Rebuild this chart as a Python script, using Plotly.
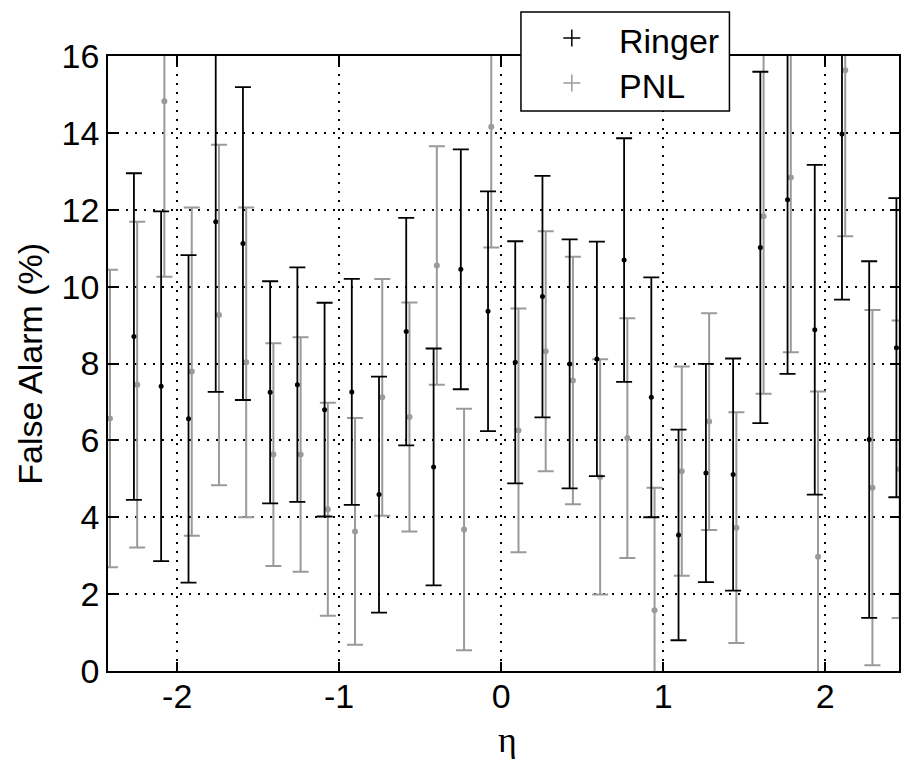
import plotly.graph_objects as go

# Pseudorapidity bin centres
eta = [-2.435, -2.267, -2.099, -1.930, -1.762, -1.594, -1.426, -1.258, -1.090, -0.922,
       -0.754, -0.586, -0.417, -0.249, -0.081, 0.087, 0.255, 0.423, 0.591, 0.759,
       0.927, 1.095, 1.264, 1.432, 1.600, 1.768, 1.936, 2.104, 2.272, 2.440]

# False alarm rate (%) and its uncertainty, Ringer discriminator
ringer = [None, 8.70, 7.41, 6.56, 11.69, 11.12, 7.25, 7.45, 6.80, 7.26,
          4.59, 8.83, 5.31, 10.45, 9.36, 8.03, 9.74, 7.99, 8.12, 10.69,
          7.12, 3.54, 5.15, 5.11, 11.02, 12.26, 8.88, 13.97, 6.02, 8.41]
ringer_err = [None, 4.25, 4.55, 4.26, 4.43, 4.07, 2.89, 3.05, 2.78, 2.94,
              3.07, 2.96, 3.08, 3.12, 3.12, 3.15, 3.14, 3.24, 3.05, 3.17,
              3.12, 2.74, 2.84, 3.02, 4.57, 4.53, 4.29, 4.31, 4.64, 3.89]

# False alarm rate (%) and its uncertainty, PNL discriminator
pnl = [6.57, 7.45, 14.82, 7.79, 9.26, 8.03, 5.63, 5.63, 4.21, 3.63,
       7.12, 6.61, 10.55, 3.68, 14.16, 6.26, 8.32, 7.56, 5.05, 6.06,
       1.58, 5.20, 6.49, 3.73, 11.83, 12.84, 2.97, 15.63, 4.77, 5.25]
pnl_err = [3.87, 4.24, 4.56, 4.27, 4.43, 4.03, 2.90, 3.05, 2.77, 2.95,
           3.08, 2.98, 3.10, 3.14, 3.14, 3.17, 3.12, 3.22, 3.06, 3.12,
           3.19, 2.72, 2.82, 3.00, 4.62, 4.55, 4.30, 4.32, 4.62, 3.87]

series_names = ["Ringer", "PNL"]

x_tickvals = [-2, -1, 0, 1, 2]
x_ticktext = ["-2", "-1", "0", "1", "2"]
y_tickvals = [0, 2, 4, 6, 8, 10, 12, 14, 16]
y_ticktext = ["0", "2", "4", "6", "8", "10", "12", "14", "16"]

BLACK = "#000000"
GRAY = "#9a9a9a"
FONT = "Liberation Sans, Arial, sans-serif"
shift = 0.02  # small horizontal shift so the two series do not overlap

# Canvas and plot-area geometry (pixels)
W, H = 901, 759
ML, MR, MT, MB = 108, 0, 56, 88
PW, PH = W - ML - MR, H - MT - MB


def px_x(px):
    return (px - ML) / PW


def px_y(py):
    return (H - MB - py) / PH


fig = go.Figure()

fig.add_trace(go.Scatter(
    x=[e + shift for e in eta], y=pnl, mode="markers", showlegend=False,
    marker=dict(color=GRAY, size=6, symbol="circle"),
    error_y=dict(type="data", array=pnl_err, visible=True,
                 color=GRAY, thickness=2, width=8),
))
fig.add_trace(go.Scatter(
    x=eta, y=ringer, mode="markers", showlegend=False,
    marker=dict(color=BLACK, size=5, symbol="circle"),
    error_y=dict(type="data", array=ringer_err, visible=True,
                 color=BLACK, thickness=1.8, width=8),
))

axis_common = dict(
    showline=True, linecolor=BLACK, linewidth=1.5, mirror="ticks",
    ticks="inside", ticklen=9, tickwidth=1.5, tickcolor=BLACK,
    showgrid=True, gridcolor=BLACK, gridwidth=1.5, griddash="2px,7px",
    zeroline=False, tickfont=dict(family=FONT, size=34, color=BLACK),
)

fig.update_xaxes(range=[-2.427, 2.456], tickmode="array",
                 tickvals=x_tickvals, ticktext=x_ticktext,
                 ticklabelstandoff=-6, **axis_common)
fig.update_yaxes(range=[0, 16], tickmode="array",
                 tickvals=y_tickvals, ticktext=y_ticktext,
                 ticklabelstandoff=0, **axis_common)

fig.add_annotation(text="False Alarm (%)", xref="paper", yref="paper",
                   x=px_x(29), y=0.5, xanchor="center", yanchor="middle",
                   textangle=-90, showarrow=False,
                   font=dict(family=FONT, size=34, color=BLACK))
fig.add_annotation(text="η", xref="paper", yref="paper",
                   x=px_x(509), y=px_y(740), xanchor="center", yanchor="middle",
                   showarrow=False,
                   font=dict(family="Liberation Serif, serif", size=36, color=BLACK))

# Legend box with plus-sign keys
box = dict(x0=522, x1=731, y0=12, y1=111)
fig.add_shape(type="rect", xref="paper", yref="paper", layer="above",
              x0=px_x(box["x0"]), x1=px_x(box["x1"]),
              y0=px_y(box["y1"]), y1=px_y(box["y0"]),
              fillcolor="white", line=dict(color=BLACK, width=1.5))

key_x, text_x = 573, 618
rows_y = [38, 83]
for name, color, ry in zip(series_names, [BLACK, GRAY], rows_y):
    for dx0, dx1, dy0, dy1 in [(-8.5, 8.5, 0, 0), (0, 0, -8.5, 8.5)]:
        fig.add_shape(type="line", xref="paper", yref="paper", layer="above",
                      xsizemode="pixel", ysizemode="pixel",
                      xanchor=px_x(key_x), yanchor=px_y(ry),
                      x0=dx0, x1=dx1, y0=dy0, y1=dy1,
                      line=dict(color=color, width=1.5))
    fig.add_annotation(text=name, xref="paper", yref="paper",
                       x=px_x(text_x), y=px_y(ry + 3),
                       xanchor="left", yanchor="middle", showarrow=False,
                       font=dict(family=FONT, size=34, color=BLACK))

fig.update_layout(
    width=W, height=H,
    margin=dict(l=ML, r=MR, t=MT, b=MB),
    paper_bgcolor="white", plot_bgcolor="white",
    showlegend=False,
)

fig.write_html("out.html")
